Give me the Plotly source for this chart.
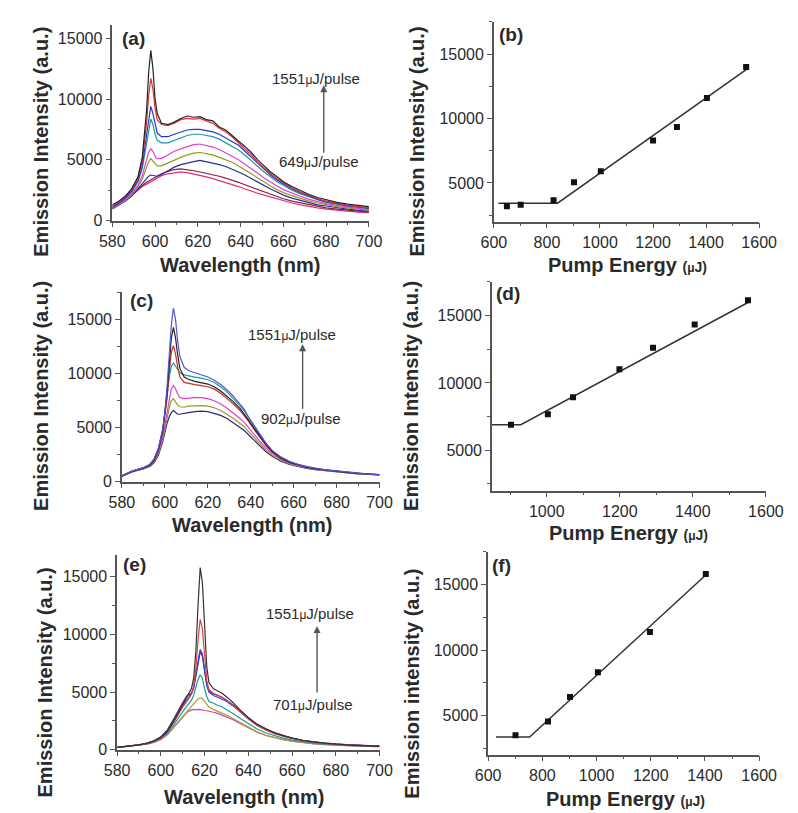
import plotly.graph_objects as go

# ---------------- data ----------------
# Panel (a): spectra, 649 -> 1551 uJ/pulse
wl_a = [580, 583, 586, 589, 592, 594, 596, 597, 598, 599, 600, 601, 603, 606, 609, 612, 615, 618, 621, 624,
        627, 630, 633, 636, 639, 642, 645, 648, 651, 654, 657, 660, 664, 668, 672, 676, 680, 685, 690, 695, 700]
a_1551 = [1300, 1600, 2000, 2600, 3600, 5200, 9000, 12200, 14000, 12500, 10000, 8800, 8000, 7900, 8100, 8400, 8600, 8500, 8550, 8300,
          8200, 7700, 7450, 7000, 6600, 6100, 5600, 5000, 4500, 4000, 3600, 3200, 2800, 2450, 2150, 1900, 1700, 1500, 1350, 1250, 1150]
a_1403 = [1200, 1500, 1950, 2500, 3500, 4900, 8000, 10300, 11700, 10800, 9200, 8300, 7900, 7800, 8000, 8300, 8400, 8350, 8400, 8200,
          8000, 7600, 7300, 6900, 6400, 5900, 5400, 4800, 4300, 3850, 3450, 3100, 2700, 2350, 2050, 1800, 1600, 1400, 1250, 1150, 1050]
a_1290 = [1100, 1400, 1850, 2400, 3300, 4500, 7000, 8400, 9400, 8800, 7900, 7200, 6900, 6900, 7100, 7300, 7450, 7500, 7500, 7400,
          7300, 7100, 6800, 6500, 6200, 5700, 5200, 4700, 4200, 3750, 3350, 3000, 2600, 2300, 2000, 1750, 1550, 1380, 1220, 1120, 1000]
a_1200 = [1150, 1450, 1800, 2350, 3200, 4300, 6500, 7600, 8350, 7900, 7100, 6600, 6400, 6400, 6600, 6800, 7000, 7100, 7100, 7000,
          6900, 6700, 6400, 6100, 5800, 5400, 4900, 4450, 4000, 3600, 3200, 2900, 2500, 2200, 1950, 1700, 1500, 1350, 1200, 1100, 1000]
a_1003 = [1100, 1350, 1700, 2200, 2900, 3700, 5000, 5600, 5900, 5700, 5300, 5100, 5100, 5400, 5700, 5900, 6100, 6250, 6300, 6200,
          6050, 5850, 5600, 5300, 5000, 4650, 4300, 3900, 3500, 3150, 2850, 2550, 2250, 2000, 1750, 1550, 1400, 1250, 1100, 1000, 900]
a_902 = [1000, 1300, 1650, 2100, 2800, 3400, 4400, 4850, 5100, 4900, 4650, 4500, 4500, 4750, 5000, 5200, 5400, 5550, 5600, 5500,
         5400, 5200, 5000, 4800, 4500, 4200, 3850, 3500, 3150, 2850, 2550, 2300, 2050, 1800, 1600, 1450, 1300, 1150, 1050, 950, 850]
a_825 = [950, 1250, 1600, 2000, 2600, 3000, 3450, 3650, 3750, 3700, 3650, 3650, 3800, 4100, 4400, 4600, 4750, 4850, 4950, 4850,
         4750, 4600, 4450, 4250, 4000, 3750, 3450, 3200, 2900, 2600, 2350, 2100, 1850, 1650, 1450, 1300, 1200, 1050, 950, 850, 780]
a_701 = [1000, 1300, 1700, 2100, 2600, 2900, 3150, 3250, 3350, 3450, 3550, 3650, 3850, 4050, 4200, 4250, 4200, 4100, 4000, 3900,
         3800, 3650, 3500, 3350, 3150, 2950, 2750, 2550, 2350, 2150, 1950, 1800, 1600, 1450, 1300, 1150, 1050, 950, 850, 780, 720]
a_649 = [1050, 1350, 1700, 2050, 2500, 2800, 3000, 3100, 3200, 3300, 3400, 3500, 3700, 3850, 3950, 4000, 3950, 3850, 3750, 3600,
         3450, 3300, 3100, 2950, 2800, 2600, 2400, 2250, 2100, 1950, 1800, 1600, 1450, 1300, 1150, 1050, 950, 850, 750, 700, 650]

# Panel (b)
pump_b = [649, 701, 825, 902, 1003, 1200, 1290, 1403, 1551]
int_b = [3200, 3300, 3650, 5050, 5900, 8300, 9350, 11600, 14000]
fit_b_x = [617, 840, 1551]
fit_b_y = [3430, 3430, 13800]

# Panel (c): spectra, 902 -> 1551 uJ/pulse
wl_c = [580, 585, 590, 593, 595, 597, 599, 600, 601, 602, 603, 604, 605, 606, 607, 609, 611, 614, 617, 620, 623,
        626, 629, 632, 635, 637, 639, 641, 644, 647, 650, 654, 658, 662, 666, 670, 675, 680, 685, 690, 695, 700]
c_1551 = [550, 1000, 1300, 1600, 2100, 3100, 4900, 6500, 8700, 11500, 14500, 16100, 15000, 13000, 11600, 10600, 10300, 10100, 9900, 9700, 9400,
          9000, 8500, 7900, 7200, 6700, 6000, 5400, 4500, 3600, 2900, 2300, 1900, 1600, 1400, 1250, 1100, 1000, 880, 780, 710, 660]
c_1405 = [540, 980, 1270, 1550, 2000, 3000, 4700, 6200, 8200, 10800, 13300, 14300, 13300, 11700, 10500, 9700, 9500, 9300, 9200, 9050, 8800,
          8400, 7900, 7400, 6800, 6300, 5700, 5100, 4250, 3450, 2800, 2200, 1800, 1550, 1350, 1200, 1070, 970, 860, 770, 700, 650]
c_1291 = [530, 960, 1250, 1520, 1950, 2900, 4500, 5900, 7700, 10000, 12000, 12600, 11800, 10600, 9700, 9200, 9100, 9000, 8900, 8800, 8600,
          8200, 7700, 7200, 6600, 6150, 5600, 5000, 4200, 3400, 2750, 2180, 1780, 1530, 1340, 1190, 1060, 960, 850, 760, 690, 640]
c_1199 = [560, 1020, 1320, 1620, 2100, 3100, 4800, 6200, 7900, 9600, 10700, 11000, 10700, 10300, 10100, 9900, 9800, 9700, 9600, 9450, 9200,
          8800, 8300, 7700, 7050, 6550, 5900, 5300, 4400, 3550, 2850, 2250, 1850, 1580, 1380, 1230, 1090, 990, 870, 780, 710, 660]
c_1072 = [520, 950, 1230, 1480, 1880, 2700, 4100, 5300, 6600, 7700, 8600, 8900, 8600, 8100, 7800, 7700, 7750, 7800, 7800, 7700, 7500,
          7200, 6800, 6350, 5850, 5500, 5000, 4500, 3800, 3150, 2600, 2080, 1720, 1490, 1310, 1170, 1040, 950, 840, 750, 690, 640]
c_1003 = [520, 940, 1210, 1450, 1820, 2600, 3900, 4900, 5900, 6800, 7500, 7700, 7400, 7100, 6950, 6900, 7000, 7050, 7050, 7000, 6850,
          6600, 6250, 5850, 5400, 5100, 4650, 4200, 3550, 2950, 2450, 1980, 1650, 1440, 1270, 1140, 1020, 930, 830, 740, 680, 630]
c_902 = [510, 920, 1190, 1420, 1750, 2450, 3700, 4600, 5400, 6000, 6400, 6600, 6400, 6250, 6250, 6300, 6400, 6500, 6550, 6500, 6350,
         6150, 5850, 5450, 5050, 4750, 4350, 3950, 3350, 2800, 2350, 1900, 1600, 1400, 1240, 1110, 1000, 910, 810, 730, 670, 620]

# Panel (d)
pump_d = [902, 1003, 1072, 1199, 1291, 1405, 1551]
int_d = [6900, 7680, 8930, 11020, 12610, 14330, 16140]
fit_d_x = [850, 929, 1551]
fit_d_y = [6900, 6900, 15970]

# Panel (e): spectra, 701 -> 1551 uJ/pulse
wl_e = [580, 585, 590, 594, 597, 600, 603, 606, 608, 610, 612, 614, 615, 616, 617, 618, 619, 620, 621, 622,
        624, 626, 628, 630, 633, 636, 640, 644, 648, 652, 656, 660, 665, 670, 675, 680, 685, 690, 695, 700]
e_1403 = [200, 300, 420, 560, 750, 1050, 1600, 2500, 3200, 3900, 4500, 5300, 6200, 8500, 12500, 15800, 14500, 10500, 7200, 5800,
          5300, 5100, 4900, 4600, 4100, 3500, 2800, 2200, 1800, 1450, 1200, 1000, 800, 660, 560, 480, 420, 380, 340, 310]
e_1197 = [200, 300, 410, 550, 730, 1000, 1550, 2400, 3100, 3700, 4200, 4800, 5500, 7000, 9500, 11300, 10500, 8000, 6000, 5200,
          4900, 4750, 4550, 4300, 3850, 3300, 2650, 2100, 1700, 1400, 1150, 950, 780, 650, 550, 470, 410, 370, 330, 300]
e_1005 = [200, 300, 420, 570, 770, 1080, 1650, 2550, 3250, 3850, 4350, 4900, 5400, 6500, 7900, 8700, 8300, 6900, 5600, 5000,
          4700, 4550, 4400, 4200, 3800, 3300, 2700, 2150, 1750, 1450, 1200, 980, 800, 660, 560, 480, 420, 380, 340, 310]
e_1005b = [210, 310, 430, 590, 800, 1120, 1720, 2700, 3450, 4100, 4700, 4900, 5300, 6300, 7600, 8500, 8100, 6800, 5600, 5100,
           4850, 4700, 4550, 4300, 3900, 3400, 2750, 2200, 1800, 1480, 1220, 1000, 820, 680, 570, 490, 430, 380, 340, 310]
e_902 = [190, 280, 390, 520, 690, 950, 1450, 2200, 2800, 3300, 3800, 4300, 4700, 5400, 6100, 6500, 6200, 5300, 4600, 4200,
         4000, 3850, 3700, 3500, 3150, 2750, 2250, 1800, 1450, 1200, 1000, 830, 680, 570, 490, 420, 370, 340, 310, 280]
e_821 = [190, 280, 380, 500, 660, 900, 1350, 2000, 2500, 2950, 3350, 3750, 3950, 4200, 4400, 4500, 4450, 4200, 3900, 3700,
         3500, 3350, 3200, 3000, 2700, 2400, 1950, 1550, 1250, 1050, 880, 740, 610, 520, 450, 390, 350, 320, 290, 270]
e_701 = [190, 280, 380, 500, 650, 880, 1300, 1950, 2450, 2900, 3250, 3450, 3500, 3450, 3500, 3480, 3420, 3400, 3380, 3350,
         3250, 3150, 3000, 2850, 2600, 2300, 1900, 1520, 1230, 1030, 870, 730, 600, 510, 440, 380, 340, 310, 290, 270]

# Panel (f)
pump_f = [701, 821, 902, 1005, 1197, 1403]
int_f = [3480, 4530, 6410, 8290, 11380, 15810]
fit_f_x = [629, 753, 1403]
fit_f_y = [3350, 3350, 15740]

# ---------------- styling ----------------
W, H = 798, 813
FONT = "Arial, Liberation Sans, sans-serif"
AX = "#555555"
TXT = "#2a2a2a"


def xd(a, b):
    return [a / W, b / W]


def yd(top, bottom):
    return [1 - bottom / H, 1 - top / H]


fig = go.Figure()


def spectra(wl, curves, xa, ya):
    for vals, col in curves:
        fig.add_trace(go.Scatter(x=wl, y=vals, mode="lines", line=dict(color=col, width=1.2),
                                 xaxis=xa, yaxis=ya, showlegend=False, hoverinfo="skip"))


def threshold(px, py, fx, fy, xa, ya):
    fig.add_trace(go.Scatter(x=fx, y=fy, mode="lines", line=dict(color="#333333", width=1.5),
                             xaxis=xa, yaxis=ya, showlegend=False))
    fig.add_trace(go.Scatter(x=px, y=py, mode="markers",
                             marker=dict(symbol="square", size=6, color="#111111"),
                             xaxis=xa, yaxis=ya, showlegend=False))


spectra(wl_a, [(a_649, "#e0307a"), (a_701, "#8a1f45"), (a_825, "#25308f"), (a_902, "#9a9a1a"),
               (a_1003, "#e040d8"), (a_1200, "#1f9a9a"), (a_1290, "#2a35d0"), (a_1403, "#e03030"),
               (a_1551, "#222222")], "x", "y")
threshold(pump_b, int_b, fit_b_x, fit_b_y, "x2", "y2")
spectra(wl_c, [(c_902, "#2a2a7a"), (c_1003, "#9a9a2a"), (c_1072, "#d840d0"), (c_1199, "#1f9a9a"),
               (c_1291, "#c0302a"), (c_1405, "#222222"), (c_1551, "#5555d5")], "x3", "y3")
threshold(pump_d, int_d, fit_d_x, fit_d_y, "x4", "y4")
spectra(wl_e, [(e_701, "#d040b0"), (e_821, "#a8a030"), (e_902, "#1f9a9a"), (e_1005b, "#552070"),
               (e_1005, "#3040d0"), (e_1197, "#e04040"), (e_1403, "#333333")], "x5", "y5")
threshold(pump_f, int_f, fit_f_x, fit_f_y, "x6", "y6")


def axis(domain, rng, dtick, minor, tick0=0, anchor=None):
    return dict(domain=domain, range=rng, dtick=dtick, tick0=tick0, showline=True, linecolor=AX, linewidth=1.5,
                ticks="outside", ticklen=5, tickwidth=1.2, tickcolor=AX, showgrid=False, zeroline=False,
                mirror=False, anchor=anchor, fixedrange=True, tickformat="d",
                tickfont=dict(family=FONT, size=16, color=TXT),
                minor=dict(ticks="outside", ticklen=3, tickwidth=1.1, tickcolor=AX, dtick=minor, showgrid=False))


layout = dict(width=W, height=H, margin=dict(l=0, r=0, t=0, b=0), paper_bgcolor="white",
              plot_bgcolor="white", showlegend=False, font=dict(family=FONT))

layout["xaxis"] = axis(xd(95, 362), [580, 700], 20, 10, 580, "y")
layout["yaxis"] = axis(yd(17, 215), [0, 16100], 5000, 2500, 0, "x")
layout["xaxis2"] = axis(xd(492, 768), [600, 1600], 200, 100, 600, "y2")
layout["yaxis2"] = axis(yd(14, 216), [2000, 17500], 5000, 2500, 0, "x2")
layout["xaxis3"] = axis(xd(105, 373), [580, 700], 20, 10, 580, "y3")
layout["yaxis3"] = axis(yd(287, 479), [0, 17600], 5000, 2500, 0, "x3")
layout["xaxis4"] = axis(xd(490, 775), [850, 1600], 200, 100, 1000, "y4")
layout["yaxis4"] = axis(yd(277, 488), [2000, 17500], 5000, 2500, 0, "x4")
layout["xaxis5"] = axis(xd(100, 373), [580, 700], 20, 10, 580, "y5")
layout["yaxis5"] = axis(yd(553, 750), [0, 16900], 5000, 2500, 0, "x5")
layout["xaxis6"] = axis(xd(486, 768), [600, 1600], 200, 100, 600, "y6")
layout["yaxis6"] = axis(yd(550, 755), [2000, 17500], 5000, 2500, 0, "x6")

fig.update_layout(**layout)

ann = []


def text(px, py, s, size=20, bold=True, angle=0, xanchor="center", color=TXT):
    ann.append(dict(x=px / W, y=1 - py / H, xref="paper", yref="paper", text=(f"<b>{s}</b>" if bold else s),
                    showarrow=False, textangle=angle, xanchor=xanchor, yanchor="middle",
                    font=dict(family=FONT, size=size, color=color)))


MU = "<span style='font-size:12px'>μ</span>"
PE = "Pump Energy <span style='font-size:14px'>(" + MU + "J)</span>"

# axis titles
text(228, 260, "Wavelength (nm)")
text(240, 523, "Wavelength (nm)")
text(232, 798, "Wavelength (nm)")
text(631, 260, PE)
text(632, 531, PE)
text(629, 800, PE)
text(20, 135, "Emission Intensity (a.u.)", angle=-90)
text(20, 392, "Emission Intensity (a.u.)", angle=-90)
text(25, 682, "Emission Intensity (a.u.)", angle=-90)
text(412, 135, "Emission Intensity (a.u.)", angle=-90)
text(405, 392, "Emission Intensity (a.u.)", angle=-90)
text(407, 683, "Emission intensity (a.u.)", angle=-90)

# panel labels
text(103, 31, "(a)", size=19, xanchor="left")
text(495, 27, "(b)", size=19, xanchor="left")
text(111, 296, "(c)", size=19, xanchor="left")
text(492, 289, "(d)", size=19, xanchor="left")
text(104, 563, "(e)", size=19, xanchor="left")
text(488, 564, "(f)", size=19, xanchor="left")

# pump-energy annotations
text(259, 71, "1551" + MU + "J/pulse", size=15, bold=False, xanchor="left")
text(266, 155, "649" + MU + "J/pulse", size=15, bold=False, xanchor="left")
text(234, 330, "1551" + MU + "J/pulse", size=15, bold=False, xanchor="left")
text(248, 415, "902" + MU + "J/pulse", size=15, bold=False, xanchor="left")
text(253, 612, "1551" + MU + "J/pulse", size=15, bold=False, xanchor="left")
text(260, 704, "701" + MU + "J/pulse", size=15, bold=False, xanchor="left")


def arrow(px, head, tail):
    ann.append(dict(x=px / W, y=1 - head / H, ax=0, ay=tail - head, xref="paper", yref="paper",
                    axref="pixel", ayref="pixel", text="", showarrow=True, arrowhead=2, arrowsize=1,
                    arrowwidth=1.4, arrowcolor="#555555"))


arrow(315, 78, 147)
arrow(293, 340, 406)
arrow(308, 625, 693)

fig.update_layout(annotations=ann)
fig.write_html("out.html")
